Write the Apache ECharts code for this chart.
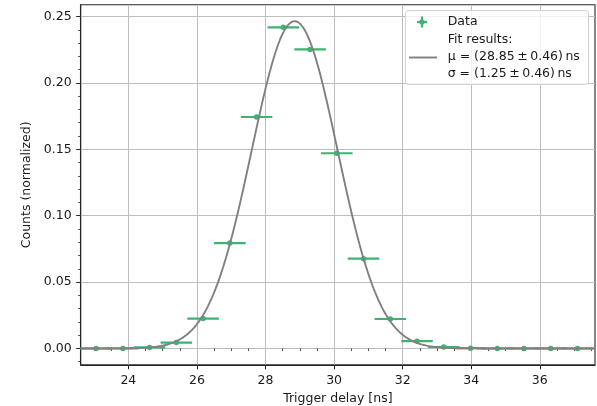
<!DOCTYPE html>
<html>
<head>
<meta charset="utf-8">
<script src="https://cdn.jsdelivr.net/npm/echarts@6/dist/echarts.min.js"></script>
<style>
  html, body { margin: 0; padding: 0; background: #fff; }
  #chart { width: 597px; height: 406px; }
</style>
</head>
<body>
<div id="chart"></div>
<script>
// Histogram bin centres of the trigger delay [ns]
const binCenters = [23.06, 23.84, 24.62, 25.40, 26.18, 26.96, 27.74, 28.52, 29.30, 30.08,
                    30.86, 31.64, 32.42, 33.20, 33.98, 34.76, 35.54, 36.32, 37.10];
// Normalized counts per bin
const counts = [0.0000, 0.0000, 0.0008, 0.0044, 0.0225, 0.0794, 0.1743, 0.2418, 0.2252, 0.1470,
                0.0676, 0.0222, 0.0055, 0.0011, 0.0002, 0.0000, 0.0000, 0.0000, 0.0000];
// Horizontal uncertainty of each point [ns]
const xErr = 0.46;

// Gaussian fit parameters
const fitMu = 28.85;
const fitMuErr = 0.46;
const fitSigma = 1.25;
const fitSigmaErr = 0.46;
const fitAmplitude = 0.2465;

// Axis ticks
const xMajorTicks = [24, 26, 28, 30, 32, 34, 36];
const xMinorTicks = [23, 23.5, 24.5, 25, 25.5, 26.5, 27, 27.5, 28.5, 29, 29.5, 30.5, 31, 31.5,
                     32.5, 33, 33.5, 34.5, 35, 35.5, 36.5, 37, 37.5];
const yMajorTicks = [0, 0.05, 0.10, 0.15, 0.20, 0.25];
const yMinorTicks = [-0.01, 0.01, 0.02, 0.03, 0.04, 0.06, 0.07, 0.08, 0.09, 0.11, 0.12, 0.13, 0.14,
                     0.16, 0.17, 0.18, 0.19, 0.21, 0.22, 0.23, 0.24];

const xRange = [22.61, 37.61];
const yRange = [-0.0123, 0.2588];

const GREEN = '#3cb371';
const FIT_GRAY = '#808080';
const FONT = 'DejaVu Sans';
const FS = 12.5;
const THIN = '\u2009';

// Sample the fitted Gaussian over the plotted range
const fitCurve = [];
const nSamples = 400;
for (let i = 0; i <= nSamples; i++) {
  const x = xRange[0] + (xRange[1] - xRange[0]) * i / nSamples;
  const z = (x - fitMu) / fitSigma;
  fitCurve.push([x, fitAmplitude * Math.exp(-0.5 * z * z)]);
}

const points = binCenters.map((x, i) => [x, counts[i]]);

const chart = echarts.init(document.getElementById('chart'), null, { renderer: 'canvas' });

const axisText = { fontFamily: FONT, fontSize: FS, color: '#1a1a1a' };

const option = {
  animation: false,
  backgroundColor: '#ffffff',
  grid: {
    left: 80.7, right: 2, top: 4.8, bottom: 41.2,
    containLabel: false, outerBoundsMode: 'none',
    show: true, borderColor: '#262626', borderWidth: 1.1, backgroundColor: 'transparent'
  },
  xAxis: [
    {
      type: 'value', min: xRange[0], max: xRange[1],
      name: 'Trigger delay [ns]', nameLocation: 'middle', nameGap: 27.5,
      nameTextStyle: axisText,
      axisLine: { show: true, onZero: false, lineStyle: { color: '#262626', width: 1.1 } },
      axisTick: { show: true, customValues: xMajorTicks, length: 4.5, lineStyle: { color: '#262626', width: 1 } },
      axisLabel: { customValues: xMajorTicks, margin: 9, ...axisText, formatter: v => String(Math.round(v)) },
      splitLine: { show: true, lineStyle: { color: '#bdbdbd', width: 1 } }
    },
    {
      type: 'value', min: xRange[0], max: xRange[1], position: 'bottom',
      axisLine: { show: false },
      axisTick: { show: true, customValues: xMinorTicks, length: 2.6, lineStyle: { color: '#262626', width: 0.8 } },
      axisLabel: { show: false },
      splitLine: { show: false }
    }
  ],
  yAxis: [
    {
      type: 'value', min: yRange[0], max: yRange[1],
      name: 'Counts (normalized)', nameLocation: 'middle', nameGap: 41,
      nameTextStyle: axisText,
      axisLine: { show: true, onZero: false, lineStyle: { color: '#262626', width: 1.1 } },
      axisTick: { show: true, customValues: yMajorTicks, length: 4.5, lineStyle: { color: '#262626', width: 1 } },
      axisLabel: { customValues: yMajorTicks, margin: 9, ...axisText, formatter: v => v.toFixed(2) },
      splitLine: { show: true, lineStyle: { color: '#bdbdbd', width: 1 } }
    },
    {
      type: 'value', min: yRange[0], max: yRange[1], position: 'left',
      axisLine: { show: false },
      axisTick: { show: true, customValues: yMinorTicks, length: 2.6, lineStyle: { color: '#262626', width: 0.8 } },
      axisLabel: { show: false },
      splitLine: { show: false }
    }
  ],
  series: [
    {
      // horizontal error bars
      type: 'custom',
      xAxisIndex: 0, yAxisIndex: 0,
      z: 2,
      data: points,
      clip: true,
      renderItem: function (params, api) {
        const x = api.value(0), y = api.value(1);
        const p0 = api.coord([x - xErr, y]);
        const p1 = api.coord([x + xErr, y]);
        return {
          type: 'line',
          shape: { x1: p0[0], y1: p0[1], x2: p1[0], y2: p1[1] },
          style: { stroke: GREEN, lineWidth: 2.2 }
        };
      }
    },
    {
      type: 'scatter',
      xAxisIndex: 0, yAxisIndex: 0,
      z: 3,
      data: points,
      symbol: 'circle', symbolSize: 5.5,
      itemStyle: { color: GREEN, opacity: 1 }
    },
    {
      type: 'line',
      xAxisIndex: 0, yAxisIndex: 0,
      z: 4,
      data: fitCurve,
      showSymbol: false, smooth: false,
      lineStyle: { color: FIT_GRAY, width: 1.9 },
      clip: true
    }
  ],
  graphic: [
    {
      type: 'rect', z: 100,
      shape: { x: 405.5, y: 10.5, width: 183, height: 74, r: 3 },
      style: { fill: 'rgba(255,255,255,0.8)', stroke: '#d0d0d0', lineWidth: 1 }
    },
    // "+" marker for the data entry
    {
      type: 'line', z: 101,
      shape: { x1: 417, y1: 22, x2: 427, y2: 22 },
      style: { stroke: GREEN, lineWidth: 2.2 }
    },
    {
      type: 'line', z: 101,
      shape: { x1: 422, y1: 16.5, x2: 422, y2: 27.5 },
      style: { stroke: GREEN, lineWidth: 2.2 }
    },
    {
      type: 'circle', z: 102,
      shape: { cx: 422, cy: 22, r: 2.6 },
      style: { fill: GREEN }
    },
    // line sample for the fit entry
    {
      type: 'line', z: 101,
      shape: { x1: 409, y1: 57.5, x2: 437, y2: 57.5 },
      style: { stroke: FIT_GRAY, lineWidth: 1.9 }
    },
    {
      type: 'text', z: 101, x: 447.7, y: 22,
      style: { text: 'Data', font: FS + 'px "' + FONT + '"', fill: '#1a1a1a', verticalAlign: 'middle' }
    },
    {
      type: 'text', z: 101, x: 447.7, y: 40,
      style: { text: 'Fit results:', font: FS + 'px "' + FONT + '"', fill: '#1a1a1a', verticalAlign: 'middle' }
    },
    {
      type: 'text', z: 101, x: 447.7, y: 56.7,
      style: {
        text: 'μ = (' + fitMu.toFixed(2) + THIN + '±' + THIN + fitMuErr.toFixed(2) + ')' + THIN + 'ns',
        font: FS + 'px "' + FONT + '"', fill: '#1a1a1a', verticalAlign: 'middle'
      }
    },
    {
      type: 'text', z: 101, x: 447.7, y: 73.3,
      style: {
        text: 'σ = (' + fitSigma.toFixed(2) + THIN + '±' + THIN + fitSigmaErr.toFixed(2) + ')' + THIN + 'ns',
        font: FS + 'px "' + FONT + '"', fill: '#1a1a1a', verticalAlign: 'middle'
      }
    }
  ]
};

chart.setOption(option);
</script>
</body>
</html>
